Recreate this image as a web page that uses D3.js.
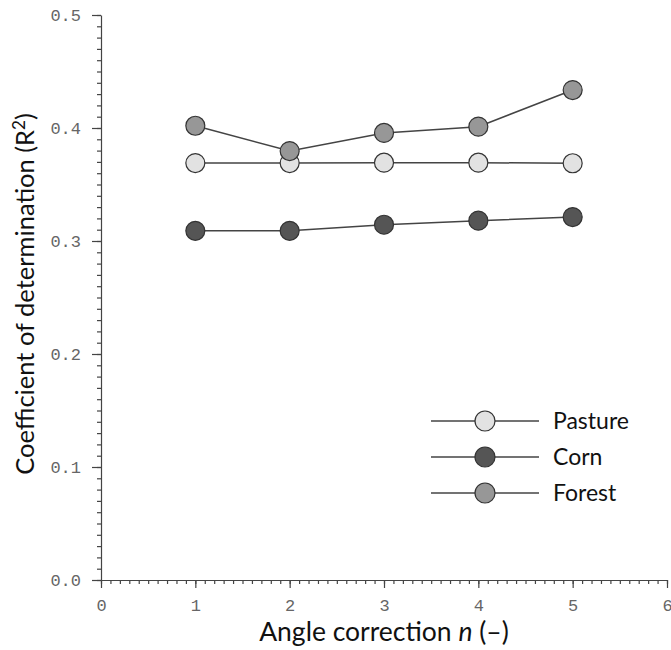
<!DOCTYPE html>
<html>
<head>
<meta charset="utf-8">
<script src="https://cdn.jsdelivr.net/npm/d3@7"></script>
<style>
  body { margin: 0; background: #fff; }
  svg { display: block; }
</style>
</head>
<body>
<svg width="671" height="650"></svg>
<script>
// angle correction n values
var nValues = [1, 2, 3, 4, 5];
var pasture = [0.369, 0.369, 0.3693, 0.3693, 0.3688];
var corn    = [0.309, 0.309, 0.3144, 0.318, 0.3212];
var forest  = [0.402, 0.3796, 0.3956, 0.4012, 0.4336];
var seriesNames = ["Pasture", "Corn", "Forest"];
var xTicks = [0, 1, 2, 3, 4, 5, 6];
var yTicks = [0, 0.1, 0.2, 0.3, 0.4, 0.5];

var series = [
    { name: seriesNames[0], values: pasture, fill: "#e2e2e2" },
    { name: seriesNames[1], values: corn,    fill: "#555555" },
    { name: seriesNames[2], values: forest,  fill: "#979797" }
];

var svg = d3.select("svg");

var x = d3.scaleLinear().domain([0, 6]).range([101, 667]);
var y = d3.scaleLinear().domain([0, 0.5]).range([580, 15]);

var tickFont = "'Liberation Mono', 'Courier New', monospace";
var titleFont = "Lato, 'Open Sans', sans-serif";

// minor ticks first, then major ticks with labels
var yMinor = d3.range(0, 0.5001, 0.01);
var xMinor = d3.range(0, 6.0001, 0.1);

var yMinorAxis = svg.append("g")
    .attr("transform", "translate(101,0)")
    .call(d3.axisLeft(y).tickValues(yMinor).tickSize(4).tickFormat(""));
yMinorAxis.select(".domain").remove();

var yAxis = svg.append("g")
    .attr("transform", "translate(101,0)")
    .call(d3.axisLeft(y).tickValues(yTicks).tickSize(9).tickSizeOuter(0).tickPadding(11)
        .tickFormat(d3.format(".1f")));

var xMinorAxis = svg.append("g")
    .attr("transform", "translate(0,580)")
    .call(d3.axisBottom(x).tickValues(xMinor).tickSize(4).tickFormat(""));
xMinorAxis.select(".domain").remove();

var xAxis = svg.append("g")
    .attr("transform", "translate(0,580)")
    .call(d3.axisBottom(x).tickValues(xTicks).tickSize(8).tickSizeOuter(0).tickPadding(11)
        .tickFormat(d3.format("d")));

svg.selectAll(".tick line, .domain").attr("stroke", "#444").attr("stroke-width", 1.2);
[yAxis, xAxis].forEach(function(a) {
    a.selectAll("text")
        .attr("fill", "#666")
        .style("font-family", tickFont)
        .style("font-size", "17px");
});

// axis titles
svg.append("text")
    .attr("x", 384)
    .attr("y", 641)
    .attr("text-anchor", "middle")
    .style("font-family", titleFont)
    .style("font-size", "26.5px")
    .attr("fill", "#111")
    .html("Angle correction <tspan font-style='italic'>n</tspan> (\u2013)");

svg.append("text")
    .attr("transform", "translate(34,294) rotate(-90)")
    .attr("text-anchor", "middle")
    .style("font-family", titleFont)
    .style("font-size", "25.5px")
    .attr("fill", "#111")
    .html("Coefficient of determination (R<tspan dy='-9' font-size='17px'>2</tspan><tspan dy='9'>)</tspan>");

// lines and markers
var line = d3.line()
    .x(function(d, i) { return x(nValues[i]); })
    .y(function(d) { return y(d); });

series.forEach(function(s) {
    svg.append("path")
        .datum(s.values)
        .attr("d", line)
        .attr("fill", "none")
        .attr("stroke", "#444")
        .attr("stroke-width", 1.5);
    svg.append("g").selectAll("circle")
        .data(s.values)
        .join("circle")
        .attr("cx", function(d, i) { return x(nValues[i]); })
        .attr("cy", function(d) { return y(d); })
        .attr("r", 9.5)
        .attr("fill", s.fill)
        .attr("stroke", "#333")
        .attr("stroke-width", 1.2);
});

// legend
var legend = svg.append("g").selectAll("g")
    .data(series)
    .join("g")
    .attr("transform", function(d, i) { return "translate(0," + (421 + i * 36) + ")"; });

legend.append("line")
    .attr("x1", 431).attr("x2", 539)
    .attr("stroke", "#444").attr("stroke-width", 1.5);
legend.append("circle")
    .attr("cx", 485).attr("r", 10)
    .attr("fill", function(d) { return d.fill; })
    .attr("stroke", "#333").attr("stroke-width", 1.2);
legend.append("text")
    .attr("x", 553)
    .attr("dy", "0.36em")
    .style("font-family", titleFont)
    .style("font-size", "23px")
    .attr("fill", "#111")
    .text(function(d) { return d.name; });
</script>
</body>
</html>
